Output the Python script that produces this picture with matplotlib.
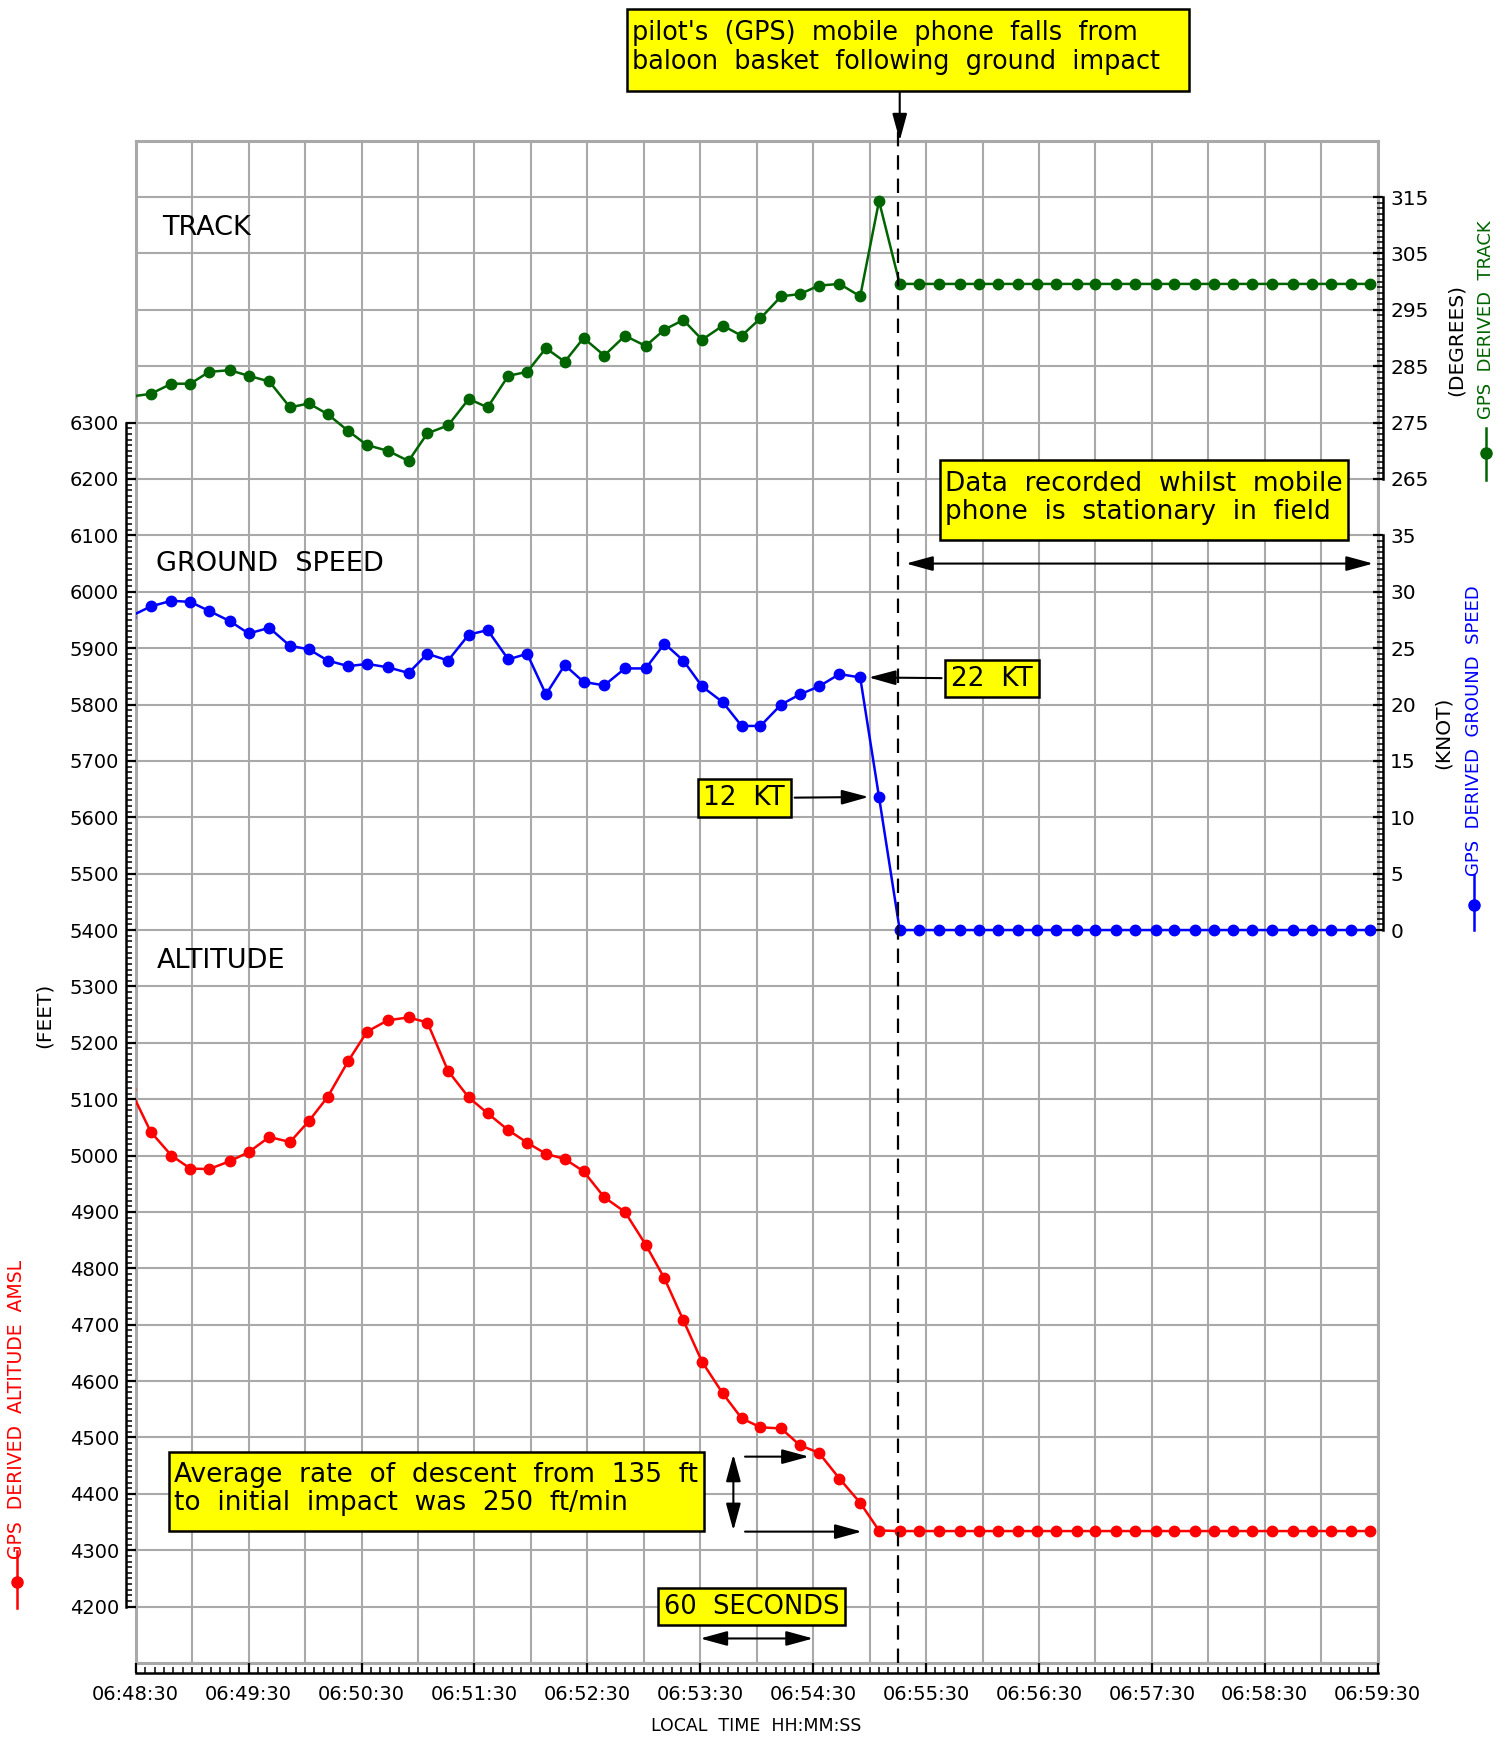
'''
GPS derived track, ground speed and altitude of the balloon flight,
re-drawn from the accident report figure.
'''
import numpy as np
import matplotlib
matplotlib.use("Agg")
from matplotlib import pyplot as plt
from matplotlib.lines import Line2D
from matplotlib.patches import Rectangle
from matplotlib.ticker import FixedLocator

# ----------- values ---------------------------------------------------
# time in seconds after 06:48:30 (GPS fix roughly every 10.4 s)
t_sec = [-3, 8, 19, 29, 39, 50, 60, 71, 82, 92, 102, 113, 123, 134, 145,
         155, 166, 177, 187, 198, 208, 218, 228, 238, 249, 260, 271, 281,
         291, 301, 312, 322, 332, 343, 353, 363, 374, 385, 395, 406, 416,
         427, 438, 448, 458, 469, 479, 489, 500, 510, 521, 531, 542, 552,
         563, 573, 583, 593, 604, 615, 625, 635, 646, 656]
track_deg = [279.6, 280.1, 281.9, 281.9, 284.0, 284.3, 283.3, 282.3, 277.7,
             278.4, 276.5, 273.5, 271.0, 270.0, 268.2, 273.1, 274.5, 279.2,
             277.7, 283.3, 284.0, 288.2, 285.8, 290.0, 286.9, 290.4, 288.6,
             291.5, 293.2, 289.7, 292.2, 290.4, 293.5, 297.4, 297.8, 299.3,
             299.6, 297.4, 314.3] + [299.6] * 25
speed_kt = [27.8, 28.7, 29.2, 29.1, 28.3, 27.4, 26.3, 26.8, 25.2, 24.9,
            23.9, 23.4, 23.6, 23.3, 22.8, 24.5, 23.9, 26.2, 26.6, 24.0,
            24.5, 20.9, 23.5, 22.0, 21.7, 23.2, 23.2, 25.4, 23.9, 21.6,
            20.2, 18.1, 18.1, 20.0, 20.9, 21.6, 22.7, 22.4, 11.8] + [0.0] * 25
alt_ft = [5118, 5042, 5000, 4977, 4976, 4990, 5006, 5033, 5024, 5061, 5104,
          5168, 5220, 5240, 5245, 5236, 5150, 5103, 5075, 5045, 5023, 5003,
          4994, 4972, 4926, 4900, 4842, 4782, 4708, 4634, 4578, 4534, 4518,
          4516, 4486, 4473, 4427, 4384, 4335] + [4334] * 25

time_ticks = [0, 60, 120, 180, 240, 300, 360, 420, 480, 540, 600, 660]
time_labels = ["06:48:30", "06:49:30", "06:50:30", "06:51:30", "06:52:30",
               "06:53:30", "06:54:30", "06:55:30", "06:56:30", "06:57:30",
               "06:58:30", "06:59:30"]
t_impact = 405          # phone falls out of the basket
descent_top = 4470      # start of the 135 ft averaging
descent_bot = 4335


def note_box(ax, x0, x1, y0, y1, text, fs=19.0, ls=1.1):
    '''yellow note box with left aligned text, in (seconds, feet)'''
    ax.add_patch(Rectangle((x0, y0), x1 - x0, y1 - y0, fc="#ffff00",
                           ec="black", lw=1.8, clip_on=False, zorder=4))
    ax.text(x0 + 3, (y0 + y1) / 2 + 4, text, fontsize=fs, ha="left",
            va="center", linespacing=ls, zorder=5)


def main():
    W, H = 1501, 1739
    fig = plt.figure(figsize=(W / 100, H / 100), dpi=100)
    pos = [135.7 / W, 1 - 1663 / H, 1242 / W, 1522.3 / H]
    xlim = (0, 660)
    Fontname = "DejaVu Sans"
    gridc = "#a9a9a9"
    green, blue, red = "#006400", "#0000ff", "#ff0000"
    yellow = dict(boxstyle="square,pad=0.22", fc="#ffff00", ec="black",
                  lw=1.8)

    # ---------------- background grid --------------------------------
    axg = fig.add_axes(pos)
    axg.set_xlim(*xlim)
    axg.set_ylim(4100, 6800)
    axg.set_xticks(np.arange(0, 661, 30))
    axg.set_yticks(np.arange(4100, 6801, 100))
    axg.tick_params(length=0, labelbottom=False, labelleft=False)
    axg.grid(color=gridc, lw=1.5)
    for s in axg.spines.values():
        s.set_color(gridc)
        s.set_linewidth(2.2)

    # ---------------- track (right axis, top) ------------------------
    ax_trk = fig.add_axes(pos)
    ax_trk.patch.set_visible(False)
    ax_trk.set_xlim(*xlim)
    ax_trk.set_ylim(55, 325)
    ax_trk.plot(t_sec, track_deg, "-o", color=green, lw=1.8, ms=7.5)
    # ---------------- ground speed (right axis, middle) --------------
    ax_spd = fig.add_axes(pos)
    ax_spd.patch.set_visible(False)
    ax_spd.set_xlim(*xlim)
    ax_spd.set_ylim(-65, 70)
    ax_spd.plot(t_sec, speed_kt, "-o", color=blue, lw=1.8, ms=7.5)
    for a, lo, hi, step, mstep in [(ax_trk, 265, 315, 10, 1),
                                   (ax_spd, 0, 35, 5, 0.5)]:
        for s in ["left", "top", "bottom"]:
            a.spines[s].set_visible(False)
        a.spines["right"].set_position(("outward", 4))
        a.spines["right"].set_bounds(lo, hi)
        a.spines["right"].set_linewidth(1.8)
        a.xaxis.set_visible(False)
        a.yaxis.tick_right()
        a.set_yticks(np.arange(lo, hi + 0.1, step))
        a.yaxis.set_minor_locator(FixedLocator(np.arange(lo, hi + 0.01,
                                                         mstep)))
        a.tick_params(axis="y", which="major", direction="in", length=7,
                      width=1.6, labelsize=14.5, pad=5)
        a.tick_params(axis="y", which="minor", direction="in", length=4,
                      width=1.1)

    # ---------------- altitude (left axis) ---------------------------
    ax = fig.add_axes(pos)
    ax.patch.set_visible(False)
    ax.set_xlim(*xlim)
    ax.set_ylim(4100, 6800)
    ax.plot(t_sec, alt_ft, "-o", color=red, lw=1.8, ms=7.5)
    ax.axvline(t_impact, ymax=1.008, clip_on=False, color="black", lw=1.6,
               ls=(0, (6.5, 4)))
    for s in ["top", "right"]:
        ax.spines[s].set_visible(False)
    ax.spines["left"].set_position(("outward", 7))
    ax.spines["left"].set_bounds(4200, 6300)
    ax.spines["bottom"].set_position(("outward", 7))
    ax.spines["bottom"].set_bounds(0, 660)
    for s in ["left", "bottom"]:
        ax.spines[s].set_linewidth(1.8)
    ax.set_yticks(np.arange(4200, 6301, 100))
    ax.yaxis.set_minor_locator(FixedLocator(np.arange(4200, 6301, 10)))
    ax.set_xticks(time_ticks)
    ax.set_xticklabels(time_labels)
    ax.xaxis.set_minor_locator(FixedLocator(np.arange(0, 661, 5)))
    ax.tick_params(which="major", direction="in", length=7, width=1.6,
                   labelsize=14, pad=5)
    ax.tick_params(axis="x", which="major", pad=9)
    ax.tick_params(which="minor", direction="in", length=4, width=1.1)

    # ---------------- panel titles ----------------------------------
    for txt, x, y in [("TRACK", 14, 6645), ("GROUND  SPEED", 11, 6050),
                      ("ALTITUDE", 11, 5345)]:
        ax.text(x, y, txt, fontsize=19.5, va="center", ha="left",
                fontname=Fontname)

    # ---------------- annotations ------------------------------------
    note_box(ax, 260.9, 559.8, 6888.4, 7034,
             "pilot's  (GPS)  mobile  phone  falls  from\n"
             "baloon  basket  following  ground  impact", fs=18.4, ls=1.13)
    ax.annotate("", xy=(t_impact + 1, 6800), xytext=(t_impact + 1, 6888),
                annotation_clip=False,
                arrowprops=dict(arrowstyle="-|>,head_length=1.1,"
                                "head_width=0.3", color="black", lw=1.5,
                                shrinkA=0, shrinkB=0, mutation_scale=15))
    note_box(ax, 427.2, 644.2, 6091.4, 6233.1,
             "Data  recorded  whilst  mobile\n"
             "phone  is  stationary  in  field")
    dbl = dict(arrowstyle="<|-|>,head_length=1.1,head_width=0.3",
               color="black", lw=1.5, shrinkA=0, shrinkB=0,
               mutation_scale=15)
    one = dict(arrowstyle="-|>,head_length=1.1,head_width=0.3",
               color="black", lw=1.5, shrinkA=0, shrinkB=0,
               mutation_scale=15)
    ax.annotate("", xy=(657.6, 6050), xytext=(409.3, 6050), arrowprops=dbl)
    ax.annotate("22  KT", xy=(389.5, 22.4), xytext=(455, 22.3),
                xycoords=ax_spd.transData, textcoords=ax_spd.transData,
                fontsize=19, ha="center", va="center", bbox=yellow,
                arrowprops=dict(one, shrinkA=2))
    ax.annotate("12  KT", xy=(389.5, 11.8), xytext=(323.4, 11.7),
                xycoords=ax_spd.transData, textcoords=ax_spd.transData,
                fontsize=19, ha="center", va="center", bbox=yellow,
                arrowprops=dict(one, shrinkA=2))
    note_box(ax, 17.5, 302.2, 4333.9, 4474,
             "Average  rate  of  descent  from  135  ft\n"
             "to  initial  impact  was  250  ft/min")
    ax.annotate("", xy=(317.6, descent_bot), xytext=(317.6, descent_top),
                arrowprops=dbl)
    ax.annotate("", xy=(357.8, descent_top - 4), xytext=(323.8,
                descent_top - 4), arrowprops=one)
    ax.annotate("", xy=(385.9, descent_bot - 2), xytext=(323.8,
                descent_bot - 2), arrowprops=one)
    ax.text(327.3, 4200, "60  SECONDS", fontsize=18.5, ha="center",
            va="center", bbox=yellow)
    ax.annotate("", xy=(360, 4143.5), xytext=(300, 4143.5), arrowprops=dbl)

    # ---------------- axis titles -------------------------------------
    fig.text(1456.7 / W, 1 - 340 / H, "(DEGREES)", rotation=90,
             fontsize=14.5, ha="center", va="center")
    fig.text(1486 / W, 1 - 320 / H, "GPS  DERIVED  TRACK", rotation=90,
             fontsize=13, color=green, ha="center", va="center")
    fig.text(1443 / W, 1 - 733 / H, "(KNOT)", rotation=90,
             fontsize=14.5, ha="center", va="center")
    fig.text(1474 / W, 1 - 731 / H, "GPS  DERIVED  GROUND  SPEED",
             rotation=90, fontsize=13, color=blue, ha="center",
             va="center")
    fig.text(44.4 / W, 1 - 1015 / H, "(FEET)", rotation=90,
             fontsize=14.5, ha="center", va="center")
    fig.text(16.7 / W, 1 - 1409 / H, "GPS  DERIVED  ALTITUDE  AMSL",
             rotation=90, fontsize=13.5, color=red, ha="center",
             va="center")
    fig.text(756 / W, 1 - 1726 / H, "LOCAL  TIME  HH:MM:SS", fontsize=12.5,
             ha="center", va="center")
    # legend keys under the coloured titles: line with a dot
    for x, y0, y1, yd, c in [(1486, 428, 480, 453, green),
                             (1474, 875, 930, 905, blue),
                             (16.7, 1551, 1608, 1582, red)]:
        fig.add_artist(Line2D([x / W, x / W], [1 - y0 / H, 1 - y1 / H],
                              color=c, lw=1.8))
        fig.add_artist(Line2D([x / W], [1 - yd / H], marker="o", ms=8,
                              color=c))

    fig.savefig("out.png", dpi=100)
    plt.close(fig)


if __name__ == '__main__':
    main()
